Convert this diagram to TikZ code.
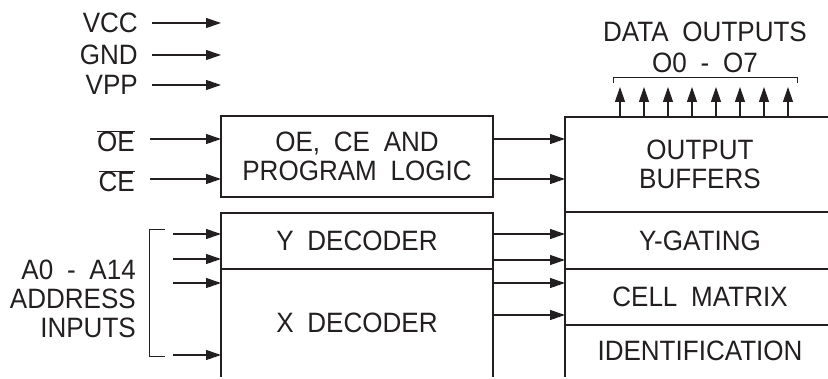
\documentclass[tikz,border=0pt]{standalone}
\usepackage{fontspec}
\setmainfont{Liberation Sans}[WordSpace=1.9, FakeStretch=0.93]
\usetikzlibrary{positioning,arrows.meta}
\definecolor{ink}{RGB}{35,31,32}
\tikzset{
	frame/.style={draw=ink, line width=2.8pt},
	blk/.style={frame, minimum width=272pt, inner sep=0pt, outer sep=0pt, align=center},
	rblk/.style={blk, minimum width=270pt},
	sig/.style={draw=ink, line width=1.2pt, -{Triangle[length=15pt,width=10pt]}},
	brk/.style={draw=ink, line width=0.9pt},
	lbl/.style={inner sep=0pt, align=right},
}

\begin{document}
\begin{tikzpicture}[x=1pt, y=-1pt, text=ink, font=\fontsize{28}{29}\selectfont]
	\useasboundingbox (0,0) rectangle (828,379);
	\clip (0,0) rectangle (828,379);
	
	% left blocks
	\node[blk, minimum height=81pt] (logic) at (357,156.5) {OE, CE AND\\PROGRAM LOGIC};
	\node[blk, minimum height=56pt, below=16pt of logic] (ydec) {Y DECODER};
	\node[blk, draw=none, minimum height=108pt, below=0pt of ydec] (xdec) {X DECODER};
	\draw[frame] (xdec.south west) |- (xdec.north east) -- (xdec.south east);
	
	% right blocks
	\node[rblk, minimum height=95pt] (outbuf) at (700,164.5) {OUTPUT\\BUFFERS};
	\node[rblk, minimum height=57pt, below=0pt of outbuf] (ygate) {Y-GATING};
	\node[rblk, minimum height=56pt, below=0pt of ygate] (cellm) {CELL MATRIX};
	\node[rblk, draw=none, minimum height=52pt, below=0pt of cellm] (ident) {IDENTIFICATION};
	\draw[frame] (ident.south west) |- (ident.north east);
	
	% supply pins
	\node[lbl, anchor=east] (vcc) at (138,23) {VCC};
	\node[lbl, anchor=east] (gnd) at (138,55) {GND};
	\node[lbl, anchor=east] (vpp) at (138,85) {VPP};
	\foreach \p in {vcc,gnd,vpp}
		\draw[sig] ([xshift=14pt]\p.east) -- ++(69pt,0);
	
	% control pins
	\node[lbl, anchor=base east] (oe) at (135,152) {$\overline{\mbox{OE}}$};
	\node[lbl, anchor=base east] (ce) at (135,192) {$\overline{\mbox{CE}}$};
	\foreach \dy in {17.5,-22.5} {
		\draw[sig] ([xshift=-71pt,yshift=\dy pt]logic.west) -- ([yshift=\dy pt]logic.west);
		\draw[sig] ([yshift=\dy pt]logic.east) -- ++(72pt,0);
	}
	
	% address inputs
	\node[lbl, anchor=east] (addr) at (136,299) {A0 - A14\\ADDRESS\\INPUTS};
	\foreach \b/\dy in {ydec/7, ydec/-18, xdec/40, xdec/-32}
		\draw[sig] ([xshift=-48pt,yshift=\dy pt]\b.west) -- ([yshift=\dy pt]\b.west);
	\draw[brk] ([xshift=-56pt,yshift=12pt]ydec.west) -- ++(-16pt,0) |- ([xshift=-56pt,yshift=-33pt]xdec.west);
	
	% decoder to array
	\foreach \b/\dy in {ydec/7, ydec/-19, xdec/40, xdec/8}
		\draw[sig] ([yshift=\dy pt]\b.east) -- ++(72pt,0);
	
	% data outputs
	\foreach \i in {0,...,7}
		\draw[sig] ([xshift=55+24*\i]outbuf.north west) -- ++(0,30pt) coordinate (tip\i);
	\draw[brk] ([shift={(-7pt,4pt)}]tip0) |- ([shift={(9pt,10pt)}]tip7) -- ([shift={(9pt,4pt)}]tip7);
	\node[align=center, inner sep=0pt] (dout) at (705,47) {DATA OUTPUTS\\[2pt]O0 - O7};
\end{tikzpicture}
\end{document}
